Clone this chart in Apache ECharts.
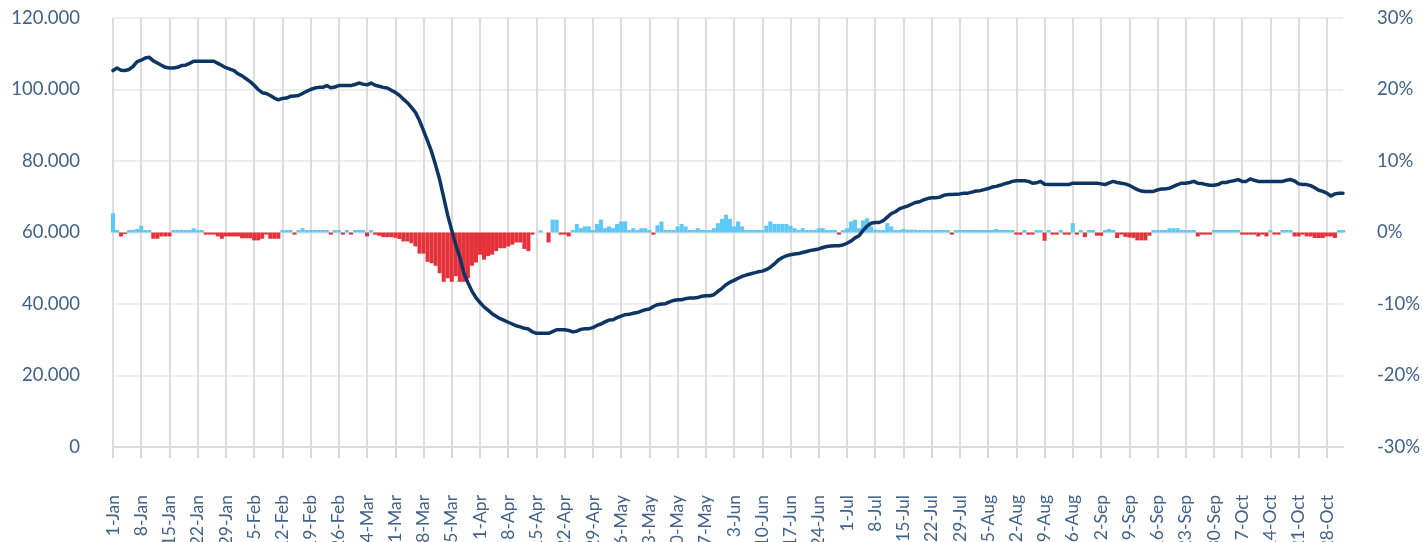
<!DOCTYPE html>
<html>
<head>
<meta charset="utf-8">
<title>Index vs daily change</title>
<script src="https://cdn.jsdelivr.net/npm/echarts@6/dist/echarts.min.js"></script>
<style>
    html, body { margin: 0; padding: 0; background: #fff; }
    #chart { width: 1423px; height: 542px; }
</style>
</head>
<body>
<div id="chart"></div>
<script>
// daily values from 1-Jan to 1-Nov (2020, leap year)
const startDate = new Date(2020, 0, 1);
const dayCount = 306;
const monthNames = ['Jan', 'Feb', 'Mar', 'Apr', 'May', 'Jun', 'Jul', 'Aug', 'Sep', 'Oct', 'Nov', 'Dec'];

// left axis, thousands
const indexValues = [
    105.3, 106.0, 105.4, 105.3, 105.6, 106.5, 107.8, 108.2, 108.8, 109.0,
    108.0, 107.4, 106.8, 106.2, 106.0, 106.0, 106.2, 106.7, 106.8, 107.3,
    107.9, 107.9, 107.9, 107.9, 107.9, 107.9, 107.3, 106.7, 106.1, 105.7,
    105.3, 104.4, 103.8, 103.0, 102.2, 101.2, 100.0, 99.1, 98.9, 98.3,
    97.6, 97.1, 97.5, 97.6, 98.1, 98.2, 98.3, 98.9, 99.5, 100.0,
    100.4, 100.6, 100.6, 101.1, 100.5, 100.7, 101.1, 101.1, 101.1, 101.1,
    101.4, 101.8, 101.5, 101.3, 101.8, 101.2, 100.9, 100.6, 100.4, 99.8,
    99.2, 98.4, 97.3, 96.3, 95.0, 93.6, 91.3, 88.5, 85.6, 82.6,
    78.8, 74.8, 69.8, 64.8, 60.6, 56.5, 53.1, 48.6, 46.0, 43.6,
    41.8, 40.4, 39.2, 38.3, 37.3, 36.6, 35.9, 35.4, 34.9, 34.4,
    33.9, 33.6, 33.2, 33.0, 32.2, 31.8, 31.8, 31.8, 31.8, 32.3,
    32.8, 32.8, 32.8, 32.6, 32.2, 32.4, 32.9, 33.1, 33.1, 33.4,
    34.0, 34.4, 35.0, 35.5, 35.6, 36.2, 36.6, 37.0, 37.1, 37.4,
    37.6, 38.0, 38.4, 38.6, 39.3, 39.8, 40.0, 40.1, 40.6, 41.0,
    41.2, 41.2, 41.5, 41.7, 41.7, 41.8, 42.2, 42.3, 42.3, 42.6,
    43.5, 44.4, 45.4, 46.1, 46.6, 47.2, 47.7, 48.1, 48.4, 48.7,
    49.0, 49.2, 49.6, 50.3, 51.2, 52.3, 53.0, 53.5, 53.8, 54.0,
    54.1, 54.4, 54.7, 55.0, 55.2, 55.4, 55.8, 56.1, 56.2, 56.3,
    56.3, 56.5, 57.0, 57.6, 58.5, 59.1, 60.6, 61.8, 62.6, 62.8,
    62.8, 63.3, 64.3, 65.3, 65.8, 66.6, 67.0, 67.4, 67.9, 68.4,
    68.6, 69.1, 69.5, 69.7, 69.7, 69.9, 70.4, 70.6, 70.6, 70.7,
    70.8, 71.0, 71.0, 71.3, 71.6, 71.7, 72.0, 72.3, 72.7, 72.9,
    73.2, 73.6, 73.9, 74.3, 74.5, 74.5, 74.5, 74.3, 73.8, 73.9,
    74.3, 73.5, 73.4, 73.4, 73.4, 73.4, 73.4, 73.4, 73.8, 73.8,
    73.8, 73.8, 73.8, 73.8, 73.8, 73.6, 73.4, 73.9, 74.3, 74.0,
    73.8, 73.6, 73.2, 72.6, 72.0, 71.6, 71.5, 71.5, 71.5, 71.9,
    72.2, 72.2, 72.4, 72.9, 73.4, 73.8, 73.8, 74.0, 74.3, 73.8,
    73.7, 73.4, 73.2, 73.2, 73.4, 74.0, 74.0, 74.3, 74.5, 74.8,
    74.3, 74.3, 75.0, 74.6, 74.3, 74.3, 74.3, 74.3, 74.3, 74.3,
    74.3, 74.6, 74.8, 74.4, 73.6, 73.4, 73.4, 73.1, 72.5, 71.8,
    71.5, 71.0, 70.2, 70.8, 71.0, 71.0
];

// right axis, percent
const changeValues = [
    2.7, 0.35, -0.55, -0.2, 0.35, 0.35, 0.5, 0.95, 0.35, 0.35,
    -0.87, -0.87, -0.55, -0.55, -0.55, 0.35, 0.35, 0.35, 0.35, 0.35,
    0.6, 0.35, 0.35, -0.3, -0.3, -0.3, -0.55, -0.87, -0.55, -0.55,
    -0.55, -0.55, -0.8, -0.8, -0.8, -1.1, -1.1, -0.87, -0.3, -0.87,
    -0.87, -0.87, 0.35, 0.35, 0.35, -0.3, 0.35, 0.6, 0.35, 0.35,
    0.35, 0.35, 0.35, 0.35, -0.3, 0.35, 0.35, -0.3, 0.35, -0.3,
    0.35, 0.35, 0.35, -0.55, 0.35, -0.3, -0.45, -0.65, -0.65, -0.65,
    -0.75, -0.9, -1.25, -1.25, -1.5, -1.95, -2.95, -2.95, -4.1, -4.3,
    -4.65, -5.7, -6.9, -6.4, -6.9, -6.1, -6.9, -6.9, -6.4, -4.65,
    -4.2, -3.1, -3.8, -3.3, -3.1, -2.6, -2.2, -2.2, -1.95, -1.7,
    -1.4, -1.4, -2.3, -2.6, -0.3, 0, 0.3, 0, -1.4, 1.8,
    1.8, -0.3, -0.3, -0.55, 0.35, 1.2, 0.6, 0.85, 0.85, 0.35,
    1.2, 1.8, 0.6, 0.85, 0.6, 1.2, 1.55, 1.55, 0.35, 0.6,
    0.35, 0.6, 0.6, 0.35, -0.3, 1.0, 1.55, 0.35, 0.35, 0.35,
    0.85, 1.2, 0.85, 0.35, 0.35, 0.6, 0.35, 0.35, 0.35, 0.6,
    1.3, 1.9, 2.5, 1.9, 0.85, 1.55, 0.85, 0.35, 0.35, 0.35,
    0.35, 0.35, 0.95, 1.55, 1.2, 1.2, 1.2, 1.2, 0.95, 0.6,
    0.35, 0.6, 0.35, 0.35, 0.35, 0.6, 0.6, 0.35, 0.35, 0.35,
    -0.3, 0.35, 0.6, 1.55, 1.8, 0.6, 1.7, 2.0, 0.85, 0.4,
    0.35, 0.35, 1.3, 0.85, 0.35, 0.35, 0.5, 0.4, 0.4, 0.4,
    0.35, 0.35, 0.35, 0.35, 0.35, 0.35, 0.35, 0.35, -0.3, 0.35,
    0.35, 0.35, 0.35, 0.35, 0.35, 0.35, 0.35, 0.35, 0.35, 0.5,
    0.35, 0.35, 0.35, 0.35, -0.3, -0.3, 0.35, -0.3, -0.3, 0.35,
    0.35, -1.15, 0.35, -0.3, -0.3, 0.35, -0.3, -0.3, 1.3, -0.3,
    0.35, -0.65, 0.35, 0.35, -0.45, -0.45, 0.35, 0.5, 0.35, -0.77,
    -0.3, -0.6, -0.7, -0.75, -1.1, -1.1, -1.1, -0.45, 0.35, 0.35,
    0.35, 0.35, 0.6, 0.6, 0.6, 0.35, 0.35, 0.35, 0.35, -0.55,
    -0.3, -0.3, -0.3, 0.35, 0.35, 0.35, 0.35, 0.35, 0.35, 0.35,
    -0.3, -0.3, -0.3, -0.3, -0.55, -0.3, -0.55, 0.35, -0.3, -0.3,
    0.35, 0.35, 0.35, -0.55, -0.55, -0.3, -0.55, -0.55, -0.77, -0.77,
    -0.77, -0.55, -0.55, -0.77, 0.35, 0.35
];

// category labels like "1-Jan"
const dayLabels = [];
for (let i = 0; i < dayCount; i++) {
    let d = new Date(startDate.getTime());
    d.setDate(d.getDate() + i);
    dayLabels.push(d.getDate() + '-' + monthNames[d.getMonth()]);
}

const textColor = '#41628b';
const fontName = 'Lato, "Open Sans", sans-serif';

let myChart = echarts.init(document.getElementById('chart'), null, { renderer: 'canvas' });
let option = {
    backgroundColor: '#fff',
    animation: false,
    grid: {
        left: 113,
        right: 80,
        top: 18,
        bottom: 95,
        // labels run off the bottom edge like in the source, keep the plot fixed
        outerBoundsMode: 'none'
    },
    xAxis: {
        type: 'category',
        boundaryGap: false,
        data: dayLabels,
        axisLine: {
            lineStyle: { color: '#dcdcdc', width: 2 }
        },
        axisTick: {
            interval: 6,
            length: 11,
            lineStyle: { color: '#d9d9d9', width: 2 }
        },
        axisLabel: {
            interval: 6,
            rotate: 90,
            margin: 48,
            color: textColor,
            fontSize: 17.5,
            fontFamily: fontName
        },
        splitLine: {
            show: true,
            interval: 6,
            lineStyle: { color: '#dcdcdc', width: 2 }
        }
    },
    yAxis: [
        {
            type: 'value',
            position: 'left',
            min: 0,
            max: 120,
            interval: 20,
            axisLine: { show: false },
            axisTick: { show: false },
            axisLabel: {
                margin: 33,
                color: textColor,
                fontSize: 18.5,
                fontFamily: fontName,
                padding: [6, 0, 0, 0],
                formatter: function (v) {
                    return v === 0 ? '0' : v + '.000';
                }
            },
            splitLine: {
                lineStyle: { color: '#eeeeee', width: 2 }
            }
        },
        {
            type: 'value',
            position: 'right',
            min: -30,
            max: 30,
            interval: 10,
            axisLine: { show: false },
            axisTick: { show: false },
            axisLabel: {
                margin: 34,
                color: textColor,
                fontSize: 18.5,
                fontFamily: fontName,
                padding: [7, 0, 0, 0],
                formatter: '{value}%'
            },
            splitLine: { show: false }
        }
    ],
    series: [
        {
            type: 'bar',
            yAxisIndex: 1,
            data: changeValues,
            barCategoryGap: '0%',
            barWidth: '100%',
            itemStyle: {
                color: function (p) {
                    return p.value < 0 ? '#e5323a' : '#5ec8f8';
                }
            },
            z: 2
        },
        {
            type: 'line',
            yAxisIndex: 0,
            data: indexValues,
            showSymbol: false,
            lineStyle: { color: '#0c3565', width: 3.5, cap: 'round', join: 'round' },
            z: 3
        }
    ]
};
myChart.setOption(option);
</script>
</body>
</html>
